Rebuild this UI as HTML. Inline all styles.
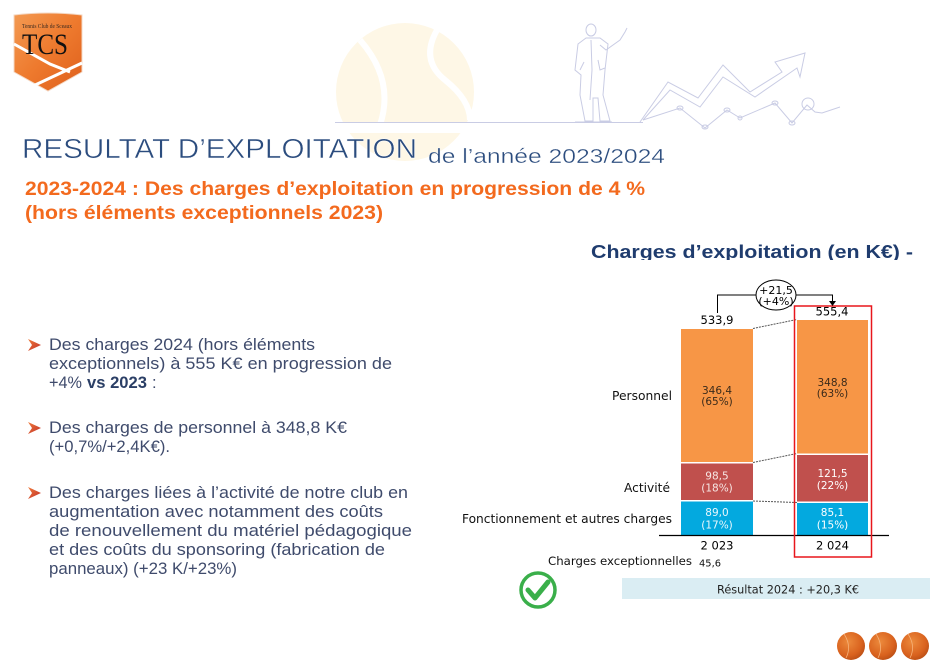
<!DOCTYPE html>
<html><head><meta charset="utf-8"><style>
html,body{margin:0;padding:0;background:#fff;}
svg{display:block;}
</style></head><body>
<svg width="952" height="672" viewBox="0 0 952 672" xmlns="http://www.w3.org/2000/svg">
<defs>
<linearGradient id="shg" x1="0" y1="0" x2="1" y2="1"><stop offset="0" stop-color="#f39a52"/><stop offset="0.5" stop-color="#ee7a2e"/><stop offset="1" stop-color="#de5f1c"/></linearGradient>
<radialGradient id="ballg" cx="0.4" cy="0.35" r="0.7"><stop offset="0" stop-color="#ec8a3c"/><stop offset="0.7" stop-color="#d9621e"/><stop offset="1" stop-color="#b94e15"/></radialGradient>
<linearGradient id="arrg" x1="0" y1="0" x2="1" y2="1"><stop offset="0" stop-color="#f07a3a"/><stop offset="1" stop-color="#c0302a"/></linearGradient>
<clipPath id="hclip"><rect x="0" y="0" width="952" height="260"/></clipPath>
</defs>
<rect width="952" height="672" fill="#fff"/>

<!-- background tennis ball -->
<circle cx="405" cy="92" r="69" fill="#fef7e6"/>
<path d="M360 40 Q395 80 380 125" fill="none" stroke="#fff" stroke-width="6"/>
<path d="M437 30 Q420 60 445 80 Q470 100 470 120" fill="none" stroke="#fff" stroke-width="6"/>
<rect x="330" y="123" width="160" height="10" fill="#fff"/>

<!-- decoration line drawing -->
<g fill="none" stroke="#c9cce4" stroke-width="1">
<line x1="335" y1="122.5" x2="643" y2="122.5"/>
<polyline points="640,122 668,82 698,98 723,65 750,92 782,72 775,62 805,53 800,77 797,68 755,97 723,77 700,107 670,90 643,120"/>
<polyline points="643,120 680,108 705,128 727,110 740,118 775,103 792,123 807,105 815,112 822,113 840,107"/>
<ellipse cx="680" cy="108" rx="3" ry="2"/><ellipse cx="705" cy="127" rx="3" ry="2"/><ellipse cx="727" cy="110" rx="3" ry="2"/><ellipse cx="740" cy="118" rx="2" ry="2"/><ellipse cx="775" cy="103" rx="3" ry="2"/><ellipse cx="792" cy="123" rx="3" ry="2"/>
<circle cx="808" cy="104" r="6"/>
<!-- man -->
<ellipse cx="591" cy="30" rx="5" ry="6"/>
<path d="M586 38 L578 44 L575 70 L581 75 L580 95 L585 121 L593 121 L593 98 L598 98 L600 121 L610 121 L603 95 L605 70 L608 44 L600 38 Z"/>
<path d="M600 45 L606 50 L620 40 L625 32 L627 28"/>
<path d="M580 70 L584 62 M591 40 L592 70 L590 100 M598 60 L600 70 L605 68"/>
<path d="M575 122 L612 122"/>
</g>

<!-- logo shield -->
<path d="M14 15 Q48 11 82 15 L82 72 L48 91 L14 72 Z" fill="url(#shg)" stroke="#f4d8c4" stroke-width="1"/>
<path d="M14 44 L50 64 L70 72" fill="none" stroke="#fff" stroke-width="3"/>
<path d="M33 86 L82 63" fill="none" stroke="#fff" stroke-width="3"/>
<text x="22" y="28" font-family="Liberation Serif, serif" font-size="6" fill="#3a2a20" textLength="50" lengthAdjust="spacingAndGlyphs">Tennis Club de Sceaux</text>
<text x="22" y="54" font-family="Liberation Serif, serif" font-size="30" fill="#111" textLength="46" lengthAdjust="spacingAndGlyphs">TCS</text>

<!-- title -->
<text x="22" y="158" font-family="Liberation Sans, sans-serif" font-size="28" fill="#2b4c7e" stroke="#fff" stroke-width="0.5" textLength="395" lengthAdjust="spacingAndGlyphs">RESULTAT D’EXPLOITATION</text>
<text x="428" y="163" font-family="Liberation Sans, sans-serif" font-size="20" fill="#2b4c7e" stroke="#fff" stroke-width="0.35" textLength="237" lengthAdjust="spacingAndGlyphs">de l’année 2023/2024</text>

<text x="25" y="195" font-family="Liberation Sans, sans-serif" font-size="19" font-weight="bold" fill="#f36a1e" textLength="620" lengthAdjust="spacingAndGlyphs">2023-2024 : Des charges d’exploitation en progression de 4 %</text>
<text x="25" y="219" font-family="Liberation Sans, sans-serif" font-size="19" font-weight="bold" fill="#f36a1e" textLength="358" lengthAdjust="spacingAndGlyphs">(hors éléments exceptionnels 2023)</text>

<!-- bullets -->
<g fill="url(#arrg)">
<polygon points="28,339 41,345 28,351 32,345"/>
<polygon points="28,422 41,428 28,434 32,428"/>
<polygon points="28,487 41,493 28,499 32,493"/>
</g>
<g font-family="Liberation Sans, sans-serif" font-size="16.5" fill="#3f4b6c">
<text x="49" y="350" textLength="266" lengthAdjust="spacingAndGlyphs">Des charges 2024 (hors éléments</text>
<text x="49" y="369" textLength="343" lengthAdjust="spacingAndGlyphs">exceptionnels) à  555 K€ en progression de</text>
<text x="49" y="388" textLength="33" lengthAdjust="spacingAndGlyphs">+4%</text>
<text x="87" y="388" font-weight="bold" fill="#2b3f66" textLength="60" lengthAdjust="spacingAndGlyphs">vs 2023</text>
<text x="152" y="388">:</text>
<text x="49" y="433" textLength="298" lengthAdjust="spacingAndGlyphs">Des charges de personnel à 348,8 K€</text>
<text x="49" y="452" textLength="121" lengthAdjust="spacingAndGlyphs">(+0,7%/+2,4K€).</text>
<text x="49" y="498" textLength="359" lengthAdjust="spacingAndGlyphs">Des charges liées à l’activité de notre club en</text>
<text x="49" y="517" textLength="334" lengthAdjust="spacingAndGlyphs">augmentation avec notamment des coûts</text>
<text x="49" y="536" textLength="363" lengthAdjust="spacingAndGlyphs">de renouvellement du matériel pédagogique</text>
<text x="49" y="555" textLength="336" lengthAdjust="spacingAndGlyphs">et des coûts du sponsoring (fabrication de</text>
<text x="49" y="574" textLength="188" lengthAdjust="spacingAndGlyphs">panneaux) (+23 K/+23%)</text>
</g>

<!-- chart heading -->
<g clip-path="url(#hclip)">
<text x="591" y="258" font-family="Liberation Sans, sans-serif" font-size="18.5" font-weight="bold" fill="#1f3c6e" textLength="322" lengthAdjust="spacingAndGlyphs">Charges d’exploitation (en K€) -</text>
</g>

<!-- bars 2023 -->
<rect x="681" y="329" width="72" height="133" fill="#f79646"/>
<rect x="681" y="463.5" width="72" height="36.5" fill="#c0504d"/>
<rect x="681" y="501.5" width="72" height="34" fill="#03a9df"/>
<!-- bars 2024 -->
<rect x="797" y="320" width="71" height="133.5" fill="#f79646"/>
<rect x="797" y="455" width="71" height="46.5" fill="#c0504d"/>
<rect x="797" y="503" width="71" height="32.5" fill="#03a9df"/>

<!-- connectors -->
<g stroke="#555" stroke-width="1" stroke-dasharray="2,1">
<line x1="753" y1="328.5" x2="797" y2="319.5"/>
<line x1="753" y1="462.5" x2="797" y2="453.5"/>
<line x1="753" y1="501" x2="797" y2="502.5"/>
</g>

<!-- axis -->
<line x1="659" y1="535.5" x2="889" y2="535.5" stroke="#000" stroke-width="1.3"/>

<!-- red box -->
<rect x="794.5" y="306" width="77" height="251" fill="none" stroke="#e8161c" stroke-width="1.5"/>

<!-- bracket -->
<g stroke="#000" stroke-width="1" fill="none">
<polyline points="717.5,313 717.5,295 832.5,295 832.5,302"/>
</g>
<polygon points="829,301 836,301 832.5,306" fill="#000"/>
<ellipse cx="776" cy="295" rx="20" ry="15" fill="#fff" stroke="#000" stroke-width="1"/>

<g font-family="DejaVu Sans, Liberation Sans, sans-serif" text-anchor="middle">
<text x="776" y="294" font-size="11" fill="#000">+21,5</text>
<text x="776" y="305" font-size="11" fill="#000">(+4%)</text>
<text x="717" y="324" font-size="11.5" fill="#000">533,9</text>
<text x="832" y="315.5" font-size="11.5" fill="#000">555,4</text>

<text x="717" y="394" font-size="10.5" fill="#3a2a1a">346,4</text>
<text x="717" y="405" font-size="10.5" fill="#3a2a1a">(65%)</text>
<text x="832.5" y="386" font-size="10.5" fill="#3a2a1a">348,8</text>
<text x="832.5" y="397" font-size="10.5" fill="#3a2a1a">(63%)</text>

<text x="717" y="479.5" font-size="10.5" fill="#f6e6e4">98,5</text>
<text x="717" y="491.5" font-size="10.5" fill="#f6e6e4">(18%)</text>
<text x="832.5" y="477" font-size="10.5" fill="#fff">121,5</text>
<text x="832.5" y="489" font-size="10.5" fill="#fff">(22%)</text>

<text x="717" y="516" font-size="10.5" fill="#eaf7fc">89,0</text>
<text x="717" y="528.5" font-size="10.5" fill="#eaf7fc">(17%)</text>
<text x="832.5" y="516" font-size="10.5" fill="#fff">85,1</text>
<text x="832.5" y="528.5" font-size="10.5" fill="#fff">(15%)</text>

<text x="717" y="549.5" font-size="11.5" fill="#000">2 023</text>
<text x="832.5" y="549.5" font-size="11.5" fill="#000">2 024</text>
</g>

<g font-family="DejaVu Sans, Liberation Sans, sans-serif" fill="#111" text-anchor="end">
<text x="672" y="400" font-size="12" textLength="60" lengthAdjust="spacingAndGlyphs">Personnel</text>
<text x="670" y="492" font-size="12" textLength="46" lengthAdjust="spacingAndGlyphs">Activité</text>
<text x="672" y="523" font-size="12" textLength="210" lengthAdjust="spacingAndGlyphs">Fonctionnement et autres charges</text>
</g>
<text x="548" y="565" font-family="DejaVu Sans, Liberation Sans, sans-serif" font-size="11.5" fill="#111" textLength="144" lengthAdjust="spacingAndGlyphs">Charges exceptionnelles</text>
<text x="699" y="566.5" font-family="DejaVu Sans, Liberation Sans, sans-serif" font-size="10" fill="#111" textLength="22" lengthAdjust="spacingAndGlyphs">45,6</text>

<!-- result box -->
<rect x="622" y="578" width="308" height="21" fill="#daedf3"/>
<text x="717" y="593.5" font-family="DejaVu Sans, Liberation Sans, sans-serif" font-size="11.5" fill="#222" textLength="142" lengthAdjust="spacingAndGlyphs">Résultat 2024 : +20,3 K€</text>

<!-- check -->
<circle cx="538" cy="590" r="17" fill="#fff" stroke="#3aaf4a" stroke-width="3.5"/>
<polyline points="528,590 535,598 548,582" fill="none" stroke="#3aaf4a" stroke-width="5" stroke-linecap="round" stroke-linejoin="round"/>

<!-- balls -->
<g>
<circle cx="851" cy="646" r="14" fill="url(#ballg)"/>
<circle cx="883" cy="646" r="14" fill="url(#ballg)"/>
<circle cx="915" cy="646" r="14" fill="url(#ballg)"/>
<g fill="none" stroke="#f6b27a" stroke-width="0.8">
<path d="M844 634 Q852 646 846 658"/>
<path d="M876 634 Q884 646 878 658"/>
<path d="M908 634 Q916 646 910 658"/>
</g>
</g>
</svg>
</body></html>
